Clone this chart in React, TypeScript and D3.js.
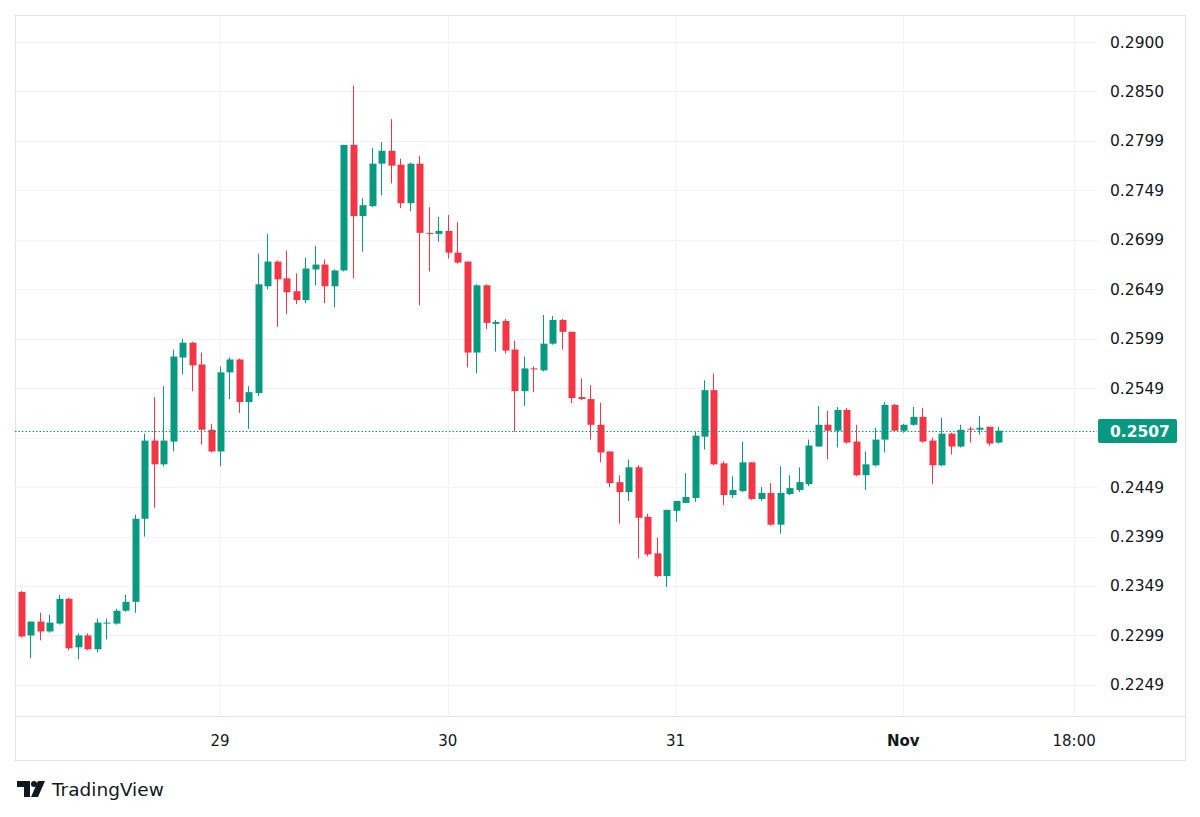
import React from "react";
import * as d3 from "d3";

// Hourly candles starting Oct 28, 03:00
const startTime = Date.UTC(2024, 9, 28, 3);

const opens = [
  0.2344, 0.2300, 0.2314, 0.2304, 0.2312, 0.2337, 0.2288, 0.2300, 0.2286, 0.2312,
  0.2312, 0.2325, 0.2334, 0.2418, 0.2497, 0.2473, 0.2496, 0.2581, 0.2596, 0.2574,
  0.2508, 0.2486, 0.2566, 0.2579, 0.2536, 0.2545, 0.2653, 0.2678, 0.2661, 0.2648,
  0.2639, 0.2670, 0.2675, 0.2653, 0.2669, 0.2796, 0.2724, 0.2734, 0.2777, 0.2790,
  0.2776, 0.2737, 0.2777, 0.2707, 0.2706, 0.2709, 0.2687, 0.2678, 0.2586, 0.2654,
  0.2615, 0.2618, 0.2589, 0.2547, 0.2570, 0.2568, 0.2595, 0.2619, 0.2607, 0.2541,
  0.2539, 0.2513, 0.2486, 0.2455, 0.2445, 0.2470, 0.2420, 0.2383, 0.2360, 0.2426,
  0.2434, 0.2439, 0.2501, 0.2548, 0.2474, 0.2442, 0.2446, 0.2475, 0.2438, 0.2444,
  0.2412, 0.2443, 0.2447, 0.2453, 0.2491, 0.2513, 0.2507, 0.2528, 0.2496, 0.2462,
  0.2472, 0.2498, 0.2533, 0.2507, 0.2513, 0.2521, 0.2497, 0.2472, 0.2504, 0.2491,
  0.2509, 0.2508, 0.2511, 0.2495,
];
const highs = [
  0.2345, 0.2314, 0.2323, 0.2321, 0.2341, 0.2338, 0.2302, 0.2302, 0.2317, 0.2317,
  0.2327, 0.2341, 0.2422, 0.2504, 0.2541, 0.2552, 0.2589, 0.2600, 0.2597, 0.2586,
  0.2514, 0.2572, 0.2581, 0.2580, 0.2552, 0.2686, 0.2706, 0.2679, 0.2689, 0.2666,
  0.2682, 0.2694, 0.2680, 0.2670, 0.2796, 0.2856, 0.2742, 0.2793, 0.2799, 0.2822,
  0.2782, 0.2778, 0.2785, 0.2733, 0.2723, 0.2725, 0.2718, 0.2678, 0.2655, 0.2655,
  0.2619, 0.2620, 0.2598, 0.2582, 0.2572, 0.2624, 0.2623, 0.2620, 0.2607, 0.2560,
  0.2553, 0.2535, 0.2486, 0.2462, 0.2478, 0.2472, 0.2423, 0.2399, 0.2427, 0.2436,
  0.2464, 0.2506, 0.2558, 0.2565, 0.2476, 0.2461, 0.2496, 0.2475, 0.2450, 0.2454,
  0.2471, 0.2462, 0.2470, 0.2498, 0.2532, 0.2527, 0.2531, 0.2530, 0.2513, 0.2486,
  0.2510, 0.2536, 0.2534, 0.2514, 0.2531, 0.2530, 0.2500, 0.2520, 0.2505, 0.2513,
  0.2511, 0.2522, 0.2511, 0.2511,
];
const lows = [
  0.2298, 0.2277, 0.2295, 0.2303, 0.2311, 0.2285, 0.2276, 0.2285, 0.2283, 0.2296,
  0.2311, 0.2324, 0.2323, 0.2400, 0.2429, 0.2471, 0.2486, 0.2564, 0.2547, 0.2493,
  0.2485, 0.2471, 0.2539, 0.2525, 0.2509, 0.2542, 0.2650, 0.2612, 0.2625, 0.2635,
  0.2636, 0.2654, 0.2636, 0.2632, 0.2668, 0.2661, 0.2688, 0.2733, 0.2745, 0.2757,
  0.2732, 0.2729, 0.2634, 0.2668, 0.2698, 0.2681, 0.2676, 0.2571, 0.2565, 0.2610,
  0.2587, 0.2585, 0.2506, 0.2532, 0.2546, 0.2567, 0.2594, 0.2589, 0.2535, 0.2538,
  0.2498, 0.2475, 0.2450, 0.2413, 0.2436, 0.2378, 0.2380, 0.2359, 0.2349, 0.2415,
  0.2434, 0.2435, 0.2488, 0.2472, 0.2432, 0.2439, 0.2445, 0.2437, 0.2436, 0.2411,
  0.2403, 0.2442, 0.2445, 0.2451, 0.2491, 0.2478, 0.2490, 0.2494, 0.2461, 0.2447,
  0.2471, 0.2485, 0.2506, 0.2505, 0.2512, 0.2495, 0.2453, 0.2471, 0.2483, 0.2490,
  0.2495, 0.2503, 0.2492, 0.2494,
];
const closes = [
  0.2299, 0.2314, 0.2304, 0.2313, 0.2337, 0.2287, 0.2300, 0.2286, 0.2313, 0.2313,
  0.2325, 0.2334, 0.2418, 0.2497, 0.2473, 0.2497, 0.2582, 0.2596, 0.2573, 0.2508,
  0.2486, 0.2566, 0.2579, 0.2536, 0.2546, 0.2655, 0.2678, 0.2660, 0.2647, 0.2639,
  0.2671, 0.2675, 0.2653, 0.2669, 0.2796, 0.2724, 0.2735, 0.2777, 0.2790, 0.2775,
  0.2737, 0.2777, 0.2707, 0.2706, 0.2709, 0.2687, 0.2677, 0.2586, 0.2654, 0.2616,
  0.2617, 0.2588, 0.2547, 0.2570, 0.2569, 0.2595, 0.2619, 0.2607, 0.2540, 0.2539,
  0.2513, 0.2485, 0.2454, 0.2445, 0.2470, 0.2419, 0.2382, 0.2360, 0.2427, 0.2436,
  0.2440, 0.2502, 0.2548, 0.2473, 0.2442, 0.2447, 0.2475, 0.2438, 0.2444, 0.2412,
  0.2444, 0.2449, 0.2455, 0.2492, 0.2513, 0.2507, 0.2528, 0.2495, 0.2462, 0.2473,
  0.2498, 0.2533, 0.2507, 0.2513, 0.2521, 0.2496, 0.2472, 0.2504, 0.2491, 0.2508,
  0.2508, 0.2510, 0.2494, 0.2507,
];

const priceTicks = [0.29, 0.285, 0.28, 0.275, 0.27, 0.265, 0.26, 0.255, 0.25, 0.245, 0.24, 0.235, 0.23, 0.225];
const priceTickLabels = ["0.2900", "0.2850", "0.2799", "0.2749", "0.2699", "0.2649", "0.2599", "0.2549", "0.2499", "0.2449", "0.2399", "0.2349", "0.2299", "0.2249"];

const timeTicks = [Date.UTC(2024, 9, 29), Date.UTC(2024, 9, 30), Date.UTC(2024, 9, 31), Date.UTC(2024, 10, 1), Date.UTC(2024, 10, 1, 18)];
const timeTickLabels = ["29", "30", "31", "Nov", "18:00"];
const timeTickBold = [false, false, false, true, false];

const lastPriceLabel = "0.2507";

const UP = "#089981";
const DOWN = "#F23645";
const GRID = "#F0F3FA";
const TEXT = "#131722";
const FONT = "'DejaVu Sans', Verdana, sans-serif";

export default function App() {
  const W = 1200, H = 817;
  const plotL = 15, plotR = 1097, plotT = 15, plotB = 716;
  const frameR = 1185, frameB = 760;

  const x = d3.scaleUtc()
    .domain([new Date(Date.UTC(2024, 9, 29)), new Date(Date.UTC(2024, 10, 1))])
    .range([220, 903.3]);
  const y = d3.scaleLinear().domain([0.29, 0.225]).range([42, 684.9]);

  const step = x(new Date(startTime + 3600000)) - x(new Date(startTime));
  const bodyW = Math.round(step * 0.7);

  const candles = opens.map((o, i) => ({
    t: new Date(startTime + i * 3600000),
    o, h: highs[i], l: lows[i], c: closes[i],
  }));

  const last = closes[closes.length - 1];
  const yLast = y(last);

  return (
    <svg width={W} height={H} style={{ display: "block", position: "absolute", left: 0, top: 0, background: "#fff" }} fontFamily={FONT}>
      <rect x={0} y={0} width={W} height={H} fill="#fff" />
      {/* frame */}
      <rect x={plotL + 0.5} y={plotT + 0.5} width={frameR - plotL} height={frameB - plotT} fill="none" stroke="#E0E3EB" />
      {/* horizontal grid */}
      {priceTicks.map((p, i) => (
        <line key={"hg" + i} x1={plotL} x2={plotR} y1={Math.round(y(p)) + 0.5} y2={Math.round(y(p)) + 0.5} stroke={GRID} />
      ))}
      {/* vertical grid */}
      {timeTicks.map((t, i) => (
        <line key={"vg" + i} x1={Math.round(x(new Date(t))) + 0.5} x2={Math.round(x(new Date(t))) + 0.5} y1={plotT} y2={plotB} stroke={GRID} />
      ))}
      {/* time axis separator */}
      <line x1={plotL} x2={frameR} y1={plotB + 0.5} y2={plotB + 0.5} stroke="#E0E3EB" />

      {/* candles */}
      {candles.map((d, i) => {
        const cx = Math.round(x(d.t));
        const col = d.c >= d.o ? UP : DOWN;
        const top = y(Math.max(d.o, d.c));
        const bot = y(Math.min(d.o, d.c));
        const bh = Math.max(1, bot - top);
        return (
          <g key={"c" + i}>
            <rect x={cx} y={y(d.h)} width={1} height={Math.max(1, y(d.l) - y(d.h))} fill={col} />
            <rect x={cx - Math.floor(bodyW / 2) + 0.5} y={top} width={bodyW} height={bh} fill={col} />
          </g>
        );
      })}

      {/* last price line */}
      <line x1={plotL} x2={plotR} y1={Math.round(yLast) + 0.5} y2={Math.round(yLast) + 0.5} stroke={UP} strokeWidth={1.2} strokeDasharray="1.5 2" />

      {/* price axis labels */}
      {priceTicks.map((p, i) => (
        Math.abs(y(p) - yLast) < 16 ? null :
        <text key={"pl" + i} x={1110} y={y(p) + 5.5} fontSize={15.5} fill={TEXT}>{priceTickLabels[i]}</text>
      ))}
      <rect x={plotR + 1} y={Math.round(yLast) - 12} width={79} height={24} rx={2} fill={UP} />
      <text x={1110} y={yLast + 6} fontSize={15.5} fill="#fff" fontWeight="bold">{lastPriceLabel}</text>

      {/* time axis labels */}
      {timeTicks.map((t, i) => (
        <text key={"tl" + i} x={x(new Date(t))} y={746} fontSize={15} fill={TEXT} textAnchor="middle" fontWeight={timeTickBold[i] ? "bold" : "normal"}>{timeTickLabels[i]}</text>
      ))}

      {/* TradingView logo */}
      <g fill={TEXT}>
        <path d="M17 781 H30 V797 H24 V787 H17 Z" />
        <circle cx={34} cy={784} r={3} />
        <path d="M38 781 H45 L38 797 H31 Z" />
      </g>
      <text x={52} y={796} fontSize={18.5} fill={TEXT}>TradingView</text>
    </svg>
  );
}
